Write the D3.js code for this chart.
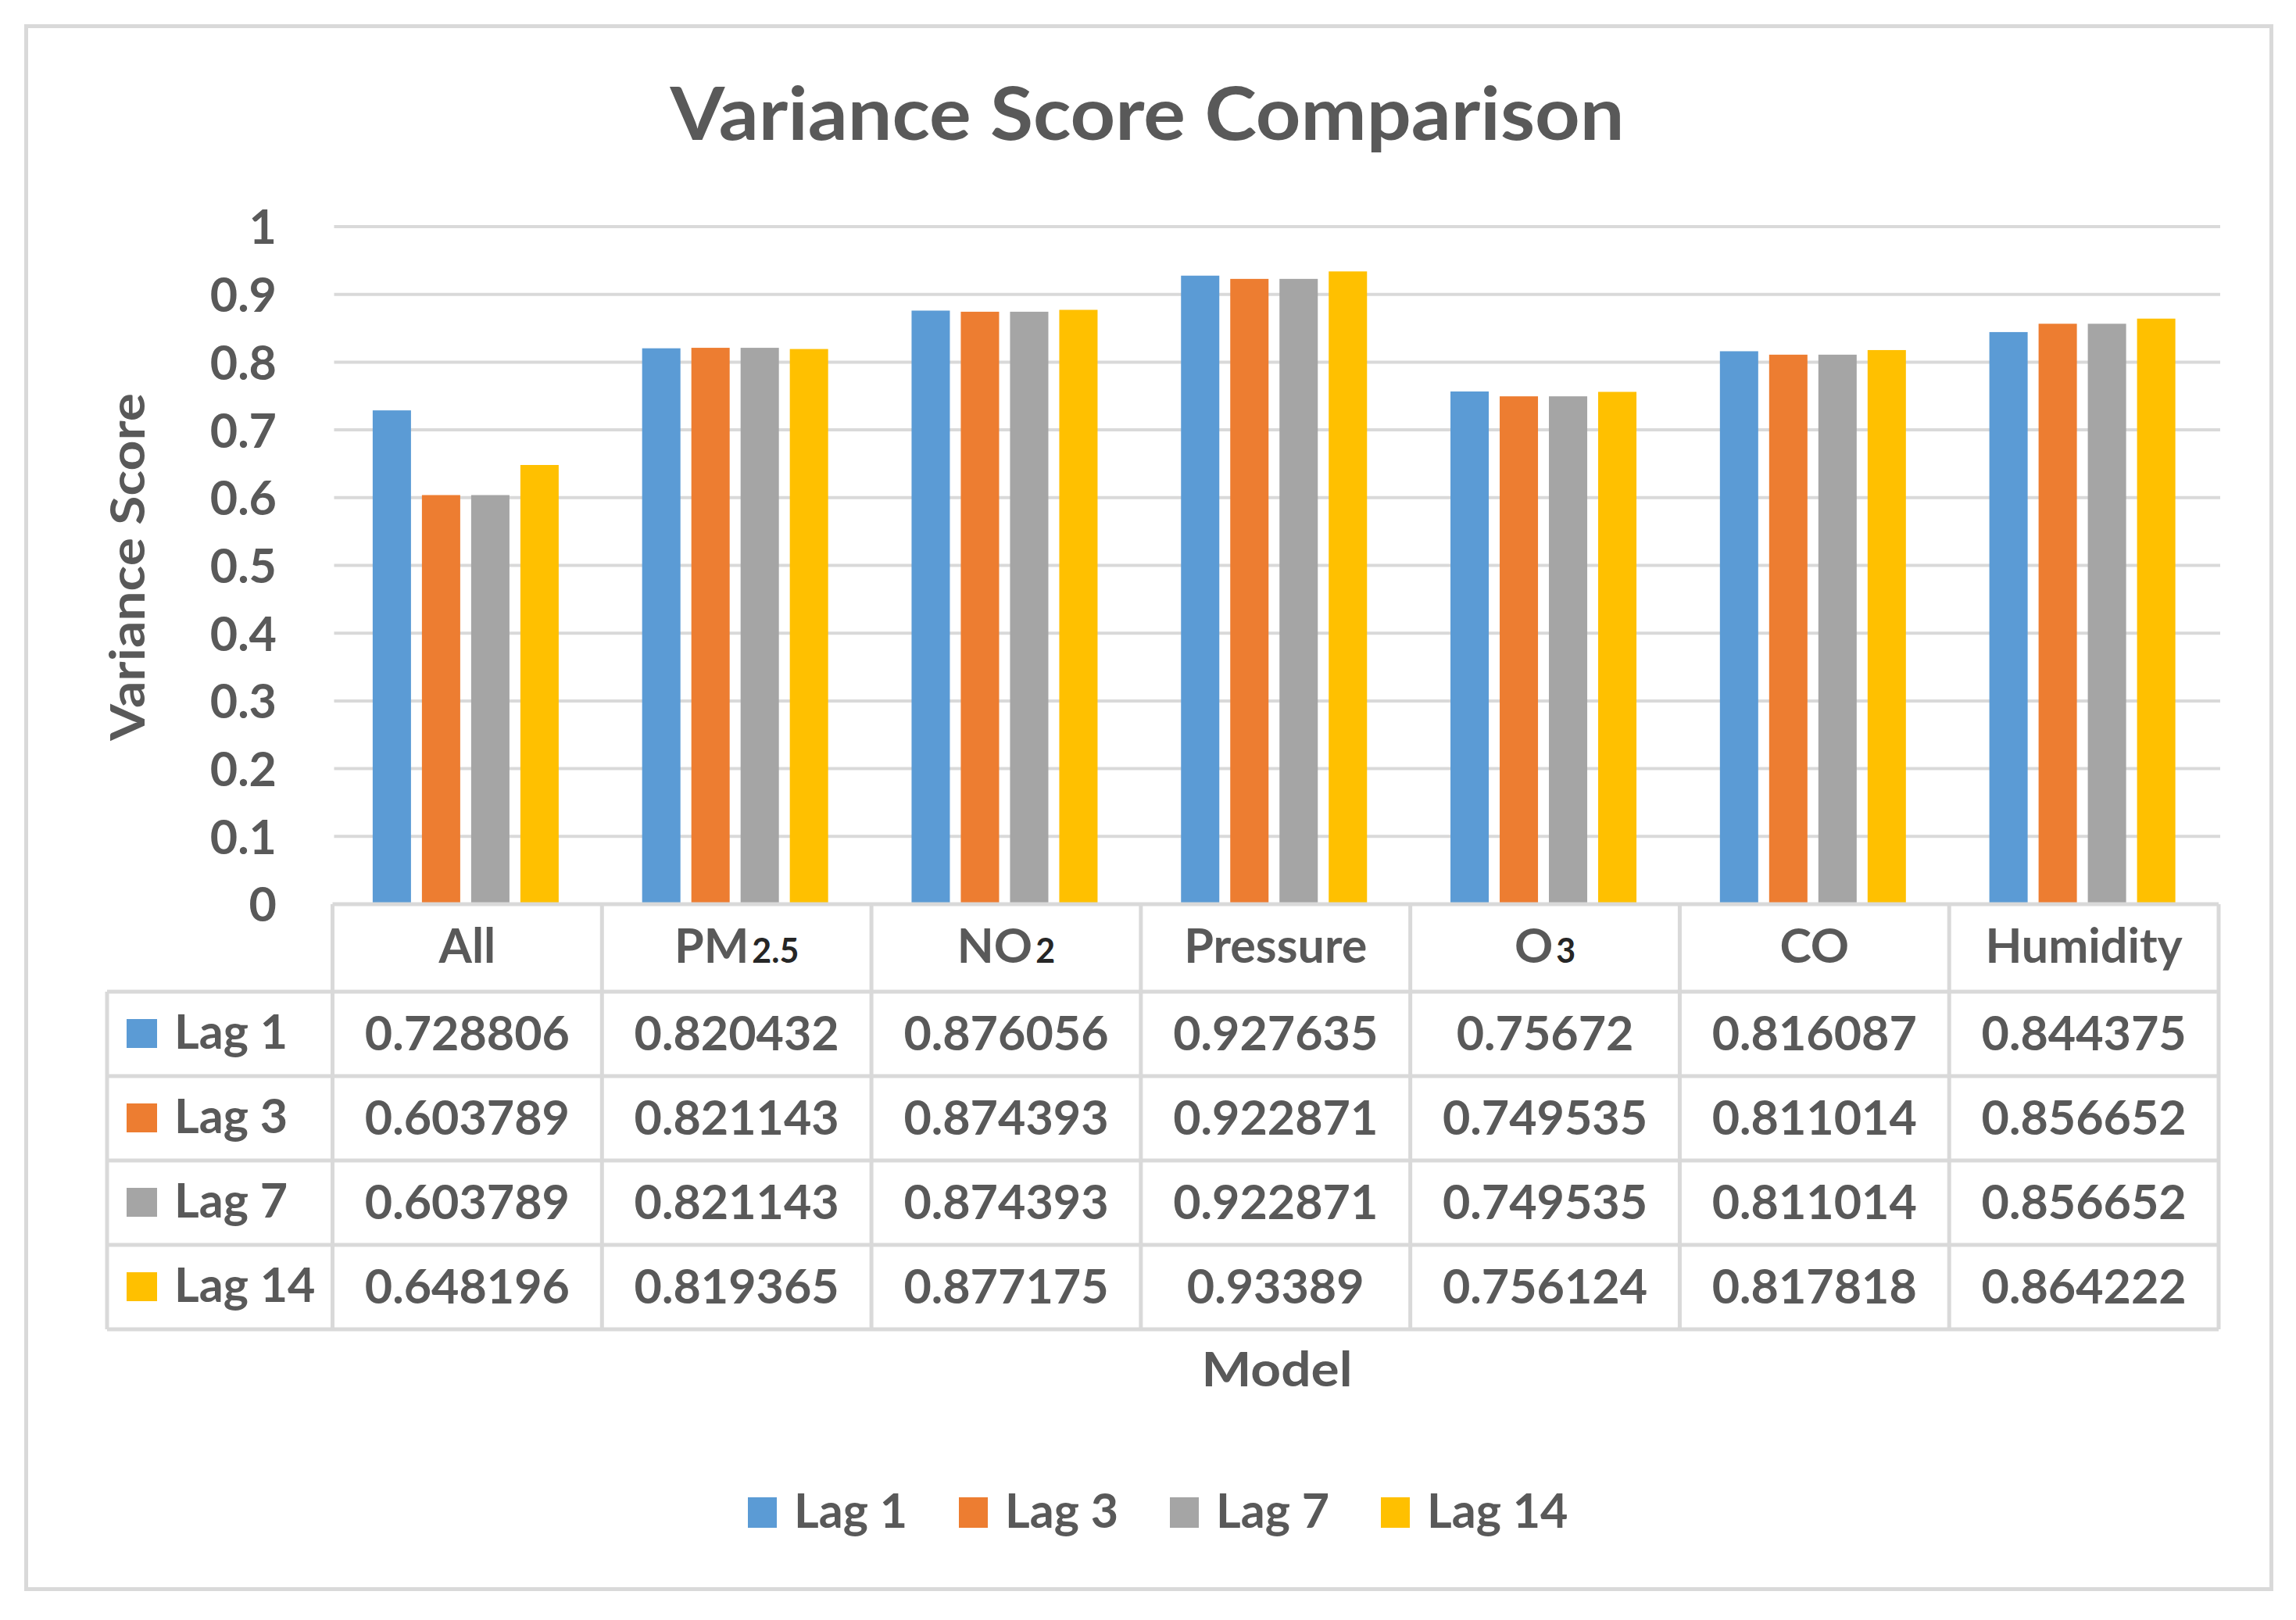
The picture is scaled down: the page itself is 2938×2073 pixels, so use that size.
<!DOCTYPE html>
<html>
<head>
<meta charset="utf-8">
<script src="https://cdn.jsdelivr.net/npm/d3@7/dist/d3.min.js"></script>
<style>
  html, body { margin: 0; padding: 0; background: #ffffff; }
  svg { display: block; }
  text { font-family: Lato, "Open Sans", sans-serif; fill: #595959; }
</style>
</head>
<body>
<svg id="chart" width="2938" height="2073"></svg>
<script>
// ---------- data ----------
const categories   = ["All", "PM", "NO", "Pressure", "O", "CO", "Humidity"];
const categorySubs = ["", "2.5", "2", "", "3", "", ""];
const seriesNames  = ["Lag 1", "Lag 3", "Lag 7", "Lag 14"];
const lag1  = [0.728806, 0.820432, 0.876056, 0.927635, 0.75672, 0.816087, 0.844375];
const lag3  = [0.603789, 0.821143, 0.874393, 0.922871, 0.749535, 0.811014, 0.856652];
const lag7  = [0.603789, 0.821143, 0.874393, 0.922871, 0.749535, 0.811014, 0.856652];
const lag14 = [0.648196, 0.819365, 0.877175, 0.93389, 0.756124, 0.817818, 0.864222];
const seriesColors = ["#5B9BD5", "#ED7D31", "#A5A5A5", "#FFC000"];
const yTicks = [0, 0.1, 0.2, 0.3, 0.4, 0.5, 0.6, 0.7, 0.8, 0.9, 1];
const chartTitle = "Variance Score Comparison";
const yTitle = "Variance Score";
const xTitle = "Model";

const seriesValues = [lag1, lag3, lag7, lag14];

// ---------- layout ----------
const svg = d3.select("#chart");
const plotLeft = 425.5, plotRight = 2839, plotTop = 290, plotBottom = 1157;
const tableLeft = 137, headerBottom = 1269, rowH = 108;
const gridColor = "#D9D9D9";

// outer border
svg.append("rect")
  .attr("x", 33.5).attr("y", 33.5).attr("width", 2873).attr("height", 2000)
  .attr("fill", "#ffffff").attr("stroke", gridColor).attr("stroke-width", 5);

// scales
const x = d3.scaleBand().domain(d3.range(categories.length))
  .range([plotLeft, plotRight]).paddingInner(0).paddingOuter(0);
const y = d3.scaleLinear().domain([0, 1]).range([plotBottom, plotTop]);
const groupWidth = 238;
const xs = d3.scaleBand().domain(d3.range(seriesNames.length))
  .range([0, groupWidth]).paddingInner(0.222).paddingOuter(0);

// title
svg.append("text")
  .attr("x", 1468).attr("y", 179)
  .attr("text-anchor", "middle")
  .attr("font-size", 93).attr("font-weight", "bold")
  .attr("textLength", 1221).attr("lengthAdjust", "spacingAndGlyphs")
  .text(chartTitle);

// gridlines (0.1 .. 1)
svg.append("g").selectAll("line")
  .data(yTicks.filter(t => t > 0))
  .join("line")
  .attr("x1", plotLeft + 2).attr("x2", plotRight + 2)
  .attr("y1", d => y(d)).attr("y2", d => y(d))
  .attr("stroke", gridColor).attr("stroke-width", 4);

// y axis labels via d3 axis
const yAxis = d3.axisLeft(y).tickValues(yTicks).tickSize(0).tickPadding(0)
  .tickFormat(d => d3.format("~g")(d));
const yg = svg.append("g").attr("transform", "translate(354,0)").call(yAxis);
yg.select(".domain").remove();
yg.selectAll("text")
  .attr("font-family", "Lato, sans-serif")
  .attr("font-size", 61).attr("font-weight", "bold")
  .attr("fill", "#595959").attr("dy", "0.36em");

// y axis title
svg.append("text")
  .attr("transform", "translate(185,725.5) rotate(-90)")
  .attr("text-anchor", "middle")
  .attr("font-size", 61).attr("font-weight", "bold")
  .attr("textLength", 445).attr("lengthAdjust", "spacingAndGlyphs")
  .text(yTitle);

// bars
const groups = svg.append("g").selectAll("g")
  .data(categories.map((c, i) => i))
  .join("g")
  .attr("transform", i => `translate(${x(i) + x.bandwidth() / 2 - groupWidth / 2 - 2},0)`);
groups.selectAll("rect")
  .data(i => seriesValues.map((vals, s) => ({ s, v: vals[i] })))
  .join("rect")
  .attr("x", d => xs(d.s))
  .attr("width", xs.bandwidth())
  .attr("y", d => y(d.v))
  .attr("height", d => y(0) - y(d.v))
  .attr("fill", d => seriesColors[d.s]);

// ---------- data table ----------
const tableBottom = headerBottom + rowH * seriesNames.length;
const tg = svg.append("g");
// horizontal lines
tg.append("line").attr("x1", plotLeft).attr("x2", plotRight)
  .attr("y1", plotBottom).attr("y2", plotBottom)
  .attr("stroke", gridColor).attr("stroke-width", 5);
tg.selectAll("line.h")
  .data(d3.range(seriesNames.length + 1))
  .join("line").attr("class", "h")
  .attr("x1", tableLeft).attr("x2", plotRight)
  .attr("y1", r => headerBottom + r * rowH).attr("y2", r => headerBottom + r * rowH)
  .attr("stroke", gridColor).attr("stroke-width", 5);
// vertical lines
tg.selectAll("line.v")
  .data(d3.range(categories.length + 1))
  .join("line").attr("class", "v")
  .attr("x1", i => plotLeft + i * x.step()).attr("x2", i => plotLeft + i * x.step())
  .attr("y1", plotBottom).attr("y2", tableBottom)
  .attr("stroke", gridColor).attr("stroke-width", 5);
tg.append("line").attr("x1", tableLeft).attr("x2", tableLeft)
  .attr("y1", headerBottom).attr("y2", tableBottom)
  .attr("stroke", gridColor).attr("stroke-width", 5);

// header labels with subscripts
const headers = tg.selectAll("text.hdr")
  .data(categories.map((c, i) => i))
  .join("text").attr("class", "hdr")
  .attr("x", i => x(i) + x.bandwidth() / 2)
  .attr("y", (plotBottom + headerBottom) / 2 + 19)
  .attr("text-anchor", "middle")
  .attr("font-size", 61).attr("font-weight", "bold");
headers.append("tspan").text(i => categories[i]);
headers.filter(i => categorySubs[i] !== "")
  .append("tspan")
  .attr("dx", 4)
  .attr("font-size", 43)
  .style("fill", "#262626")
  .text(i => categorySubs[i]);

// row legend keys + labels
const rows = tg.selectAll("g.row")
  .data(seriesNames.map((n, s) => s))
  .join("g").attr("class", "row")
  .attr("transform", s => `translate(0,${headerBottom + s * rowH + rowH / 2})`);
rows.append("rect")
  .attr("x", 162).attr("y", -19).attr("width", 39).attr("height", 37)
  .attr("fill", s => seriesColors[s]);
rows.append("text")
  .attr("x", 223).attr("y", 19)
  .attr("font-size", 61).attr("font-weight", "bold")
  .text(s => seriesNames[s]);
rows.selectAll("text.val")
  .data(s => seriesValues[s].map((v, i) => ({ v, i })))
  .join("text").attr("class", "val")
  .attr("x", d => x(d.i) + x.bandwidth() / 2)
  .attr("y", 21)
  .attr("text-anchor", "middle")
  .attr("font-size", 61).attr("font-weight", "bold")
  .text(d => String(d.v));

// x axis title
svg.append("text")
  .attr("x", 1634).attr("y", 1774)
  .attr("text-anchor", "middle")
  .attr("font-size", 61).attr("font-weight", "bold")
  .attr("textLength", 193).attr("lengthAdjust", "spacingAndGlyphs")
  .text(xTitle);

// bottom legend
const legStart = 957, legStep = 270;
const leg = svg.append("g").selectAll("g")
  .data(seriesNames.map((n, s) => s))
  .join("g")
  .attr("transform", s => `translate(${legStart + s * legStep},0)`);
leg.append("rect")
  .attr("x", 0).attr("y", 1916).attr("width", 37).attr("height", 39)
  .attr("fill", s => seriesColors[s]);
leg.append("text")
  .attr("x", 59).attr("y", 1955)
  .attr("font-size", 61).attr("font-weight", "bold")
  .text(s => seriesNames[s]);
</script>
</body>
</html>
